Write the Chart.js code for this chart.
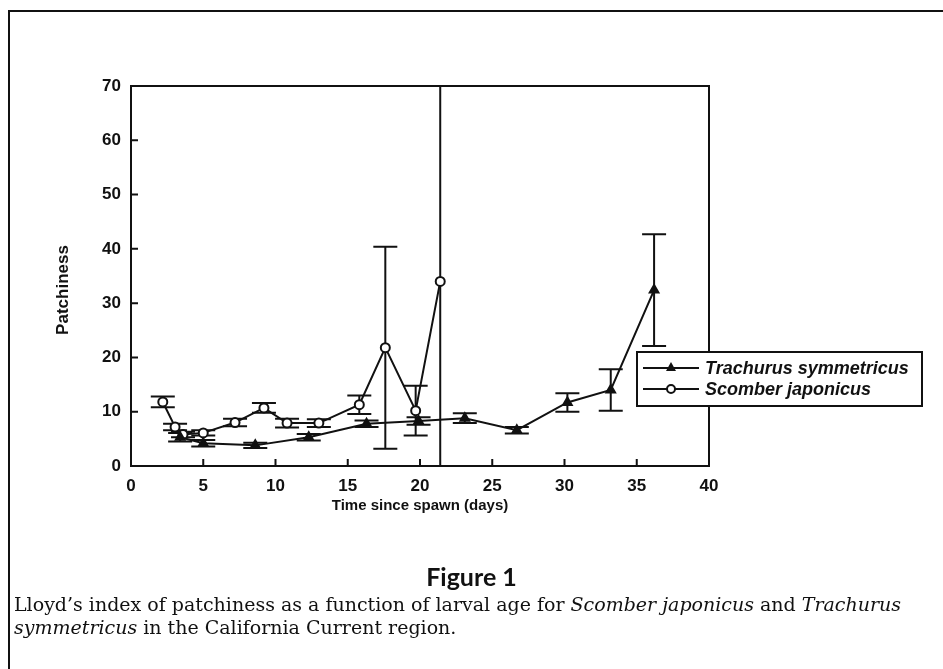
<!DOCTYPE html>
<html>
<head>
<meta charset="utf-8">
<script src="https://cdn.jsdelivr.net/npm/chart.js@4.4.1/dist/chart.umd.min.js"></script>
<style>
  body { margin:0; background:#fff; }
  #wrap { position:relative; width:943px; height:669px; overflow:hidden; }
  #frame { position:absolute; left:8px; top:10px; width:950px; height:680px; border-left:2px solid #111; border-top:2px solid #111; }
  canvas { position:absolute; left:0; top:0; }
  #fig { position:absolute; left:0; width:943px; top:561px; text-align:center; font:bold 25px Lato, "Open Sans", sans-serif; color:#111; }
  #cap { position:absolute; left:14px; top:593px; width:925px; font:19px "DejaVu Serif", serif; line-height:23px; color:#111; white-space:nowrap; }
</style>
</head>
<body>
<div id="wrap">
  <div id="frame"></div>
  <canvas id="c" width="943" height="669"></canvas>
  <div id="fig">Figure 1</div>
  <div id="cap">Lloyd’s index of patchiness as a function of larval age for <i>Scomber japonicus</i> and <i>Trachurus</i><br><i>symmetricus</i> in the California Current region.</div>
</div>
<script>
// =======================
// Data
// =======================
const trachX   = [3.4, 5.0, 8.6, 12.3, 16.3, 19.9, 23.1, 26.7, 30.2, 33.2, 36.2];
const trachY   = [5.3, 4.2, 3.8, 5.3, 7.8, 8.3, 8.8, 6.6, 11.7, 14.0, 32.4];
const trachErr = [0.8, 0.6, 0.5, 0.6, 0.6, 0.7, 0.9, 0.6, 1.7, 3.8, 10.3];

const scomX   = [2.2, 3.05, 3.6, 5.0, 7.2, 9.2, 10.8, 13.0, 15.8, 17.6, 19.7, 21.4];
const scomY   = [11.8, 7.2, 5.8, 6.1, 8.0, 10.7, 7.9, 7.9, 11.3, 21.8, 10.2, 34.0];
const scomErr = [1.0, 0.6, 0.5, 0.5, 0.7, 0.9, 0.8, 0.7, 1.7, 18.6, 4.6, 40];

const xTicks = [0, 5, 10, 15, 20, 25, 30, 35, 40];
const yTicks = [0, 10, 20, 30, 40, 50, 60, 70];
const seriesNames = ["Trachurus symmetricus", "Scomber japonicus"];

// =======================
// Helpers
// =======================
const pts = (xs, ys) => xs.map((x, i) => ({ x: x, y: ys[i] }));
const errs = [trachErr, scomErr];
const sans = '"Liberation Sans", Arial, sans-serif';

const errorBars = {
  id: 'errorBars',
  beforeDatasetsDraw(chart) {
    const { ctx, chartArea: a, scales: { x, y } } = chart;
    ctx.save();
    ctx.beginPath(); ctx.rect(a.left, a.top, a.width, a.height); ctx.clip();
    ctx.strokeStyle = '#111'; ctx.lineWidth = 2;
    chart.data.datasets.forEach((ds, di) => {
      ds.data.forEach((p, i) => {
        const e = errs[di][i];
        const px = x.getPixelForValue(p.x);
        const hi = y.getPixelForValue(p.y + e), lo = y.getPixelForValue(p.y - e);
        ctx.beginPath();
        ctx.moveTo(px, hi); ctx.lineTo(px, lo);
        ctx.moveTo(px - 12, hi); ctx.lineTo(px + 12, hi);
        ctx.moveTo(px - 12, lo); ctx.lineTo(px + 12, lo);
        ctx.stroke();
      });
    });
    ctx.restore();
  }
};

const frameAndLegend = {
  id: 'frameAndLegend',
  afterDraw(chart) {
    const { ctx, chartArea: a, scales: { x, y } } = chart;
    ctx.save();
    ctx.strokeStyle = '#111'; ctx.lineWidth = 2;
    ctx.strokeRect(a.left, a.top, a.width, a.height);
    // inward ticks
    ctx.beginPath();
    x.ticks.forEach(t => { const px = x.getPixelForValue(t.value); ctx.moveTo(px, a.bottom); ctx.lineTo(px, a.bottom - 7); });
    y.ticks.forEach(t => { const py = y.getPixelForValue(t.value); ctx.moveTo(a.left, py); ctx.lineTo(a.left + 7, py); });
    ctx.stroke();

    // y title
    ctx.fillStyle = '#111';
    ctx.font = 'bold 17px ' + sans;
    ctx.textAlign = 'center'; ctx.textBaseline = 'middle';
    ctx.translate(63, 290); ctx.rotate(-Math.PI / 2);
    ctx.fillText('Patchiness', 0, 0);
    ctx.setTransform(1, 0, 0, 1, 0, 0);

    // legend box
    const L = 637, T = 352, W = 285, H = 54;
    ctx.fillStyle = '#fff';
    ctx.fillRect(L, T, W, H);
    ctx.strokeRect(L, T, W, H);
    const rows = [368, 389];
    ctx.font = 'italic bold 18px ' + sans;
    ctx.textAlign = 'left';
    rows.forEach((ry, i) => {
      ctx.beginPath(); ctx.moveTo(643, ry); ctx.lineTo(699, ry); ctx.stroke();
      ctx.fillStyle = '#111';
      if (i === 0) {
        ctx.beginPath(); ctx.moveTo(671, ry - 6); ctx.lineTo(676, ry + 3); ctx.lineTo(666, ry + 3); ctx.closePath(); ctx.fill();
      } else {
        ctx.beginPath(); ctx.arc(671, ry, 4, 0, Math.PI * 2);
        ctx.fillStyle = '#fff'; ctx.fill(); ctx.stroke();
      }
      ctx.fillStyle = '#111';
      ctx.fillText(seriesNames[i], 705, ry + 1);
    });
    ctx.restore();
  }
};

// =======================
// Chart
// =======================
const tickFont = { family: sans, size: 17, weight: 'bold' };

new Chart(document.getElementById('c'), {
  type: 'scatter',
  data: {
    datasets: [
      { label: seriesNames[0], data: pts(trachX, trachY), showLine: true,
        borderColor: '#111', borderWidth: 2, pointStyle: 'triangle', pointRadius: 5,
        pointBackgroundColor: '#111', pointBorderColor: '#111' },
      { label: seriesNames[1], data: pts(scomX, scomY), showLine: true,
        borderColor: '#111', borderWidth: 2, pointStyle: 'circle', pointRadius: 4.5,
        pointBackgroundColor: '#fff', pointBorderColor: '#111', pointBorderWidth: 2 }
    ]
  },
  options: {
    responsive: false,
    animation: false,
    layout: { padding: { left: 40, top: 86, right: 234, bottom: 143 } },
    plugins: { legend: { display: false }, tooltip: { enabled: false } },
    scales: {
      x: {
        type: 'linear', min: 0, max: 40,
        afterBuildTicks: s => { s.ticks = xTicks.map(v => ({ value: v })); },
        afterFit: s => { s.height = 60; },
        grid: { display: false, drawTicks: false }, border: { display: false },
        ticks: { color: '#111', font: tickFont, padding: 10, maxRotation: 0 },
        title: { display: true, text: 'Time since spawn (days)', color: '#111',
                 font: { family: sans, size: 15, weight: 'bold' },
                 padding: { top: 0, bottom: 11 } }
      },
      y: {
        type: 'linear', min: 0, max: 70,
        afterBuildTicks: s => { s.ticks = yTicks.map(v => ({ value: v })); },
        afterFit: s => { s.width = 91; },
        grid: { display: false, drawTicks: false }, border: { display: false },
        ticks: { color: '#111', font: tickFont, padding: 10 }
      }
    }
  },
  plugins: [errorBars, frameAndLegend]
});
</script>
</body>
</html>
